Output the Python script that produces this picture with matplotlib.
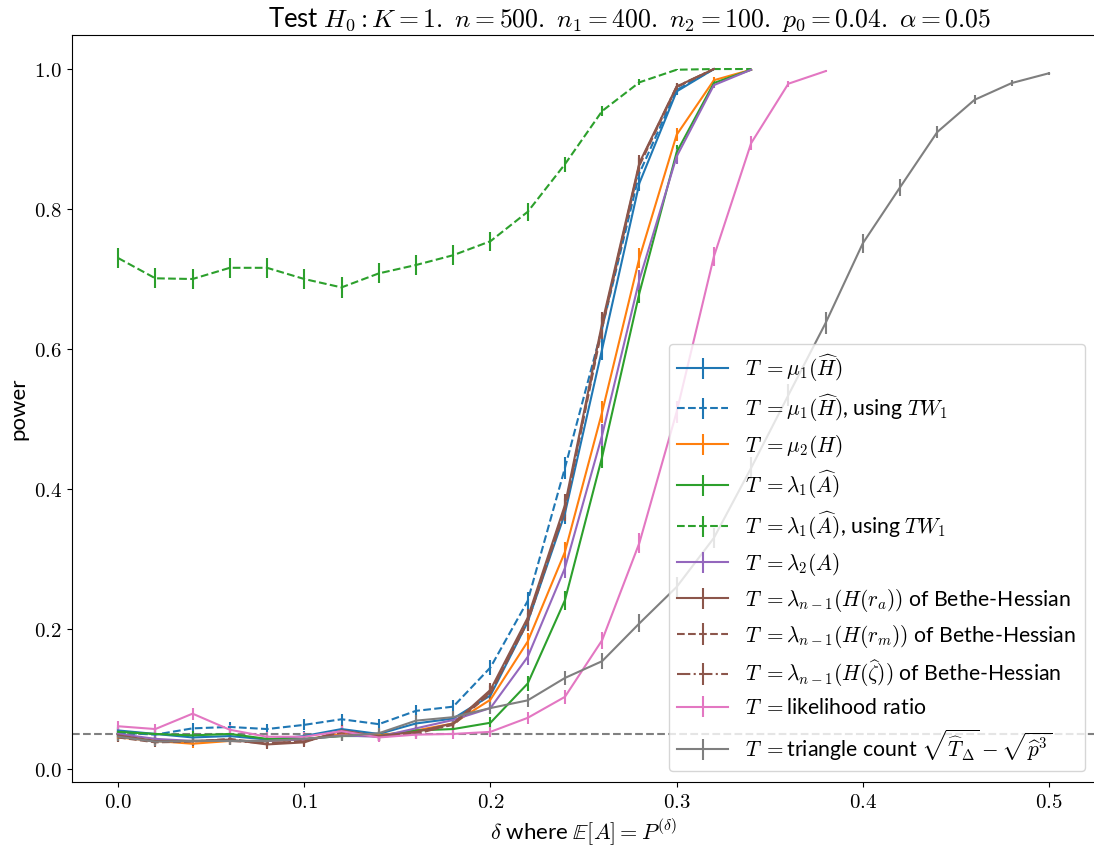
import numpy as np
import matplotlib
matplotlib.use("Agg")
import matplotlib.pyplot as plt
from matplotlib.ticker import FuncFormatter

plt.rcParams['mathtext.fontset'] = 'cm'
plt.rcParams['font.family'] = ['Lato', 'DejaVu Sans']
plt.rcParams['axes.unicode_minus'] = False

# x grid of delta values
delta = np.round(np.arange(0.0, 0.501, 0.02), 2)

# power curves, one list per test statistic
mu1_H = [0.055, 0.050, 0.045, 0.047, 0.042, 0.047, 0.057, 0.050, 0.065, 0.072,
         0.105, 0.210, 0.365, 0.600, 0.837, 0.968, 1.000]
mu1_H_tw = [0.052, 0.049, 0.058, 0.060, 0.057, 0.063, 0.071, 0.064, 0.083, 0.089,
            0.145, 0.240, 0.430, 0.630, 0.851, 0.970, 1.000]
mu2_H = [0.045, 0.040, 0.036, 0.040, 0.040, 0.042, 0.050, 0.048, 0.055, 0.065,
         0.099, 0.182, 0.310, 0.510, 0.730, 0.906, 0.984, 0.999]
lam1_A = [0.053, 0.050, 0.048, 0.050, 0.043, 0.043, 0.047, 0.047, 0.055, 0.057,
          0.066, 0.122, 0.241, 0.446, 0.680, 0.881, 0.980, 0.999]
lam1_A_tw = [0.730, 0.701, 0.700, 0.716, 0.716, 0.700, 0.688, 0.708, 0.720, 0.734,
             0.754, 0.796, 0.864, 0.940, 0.981, 0.999, 1.000, 1.000]
lam2_A = [0.050, 0.043, 0.040, 0.040, 0.040, 0.042, 0.048, 0.046, 0.058, 0.070,
          0.087, 0.160, 0.287, 0.477, 0.699, 0.875, 0.977, 0.999]
bh_ra = [0.048, 0.040, 0.040, 0.042, 0.035, 0.038, 0.055, 0.047, 0.053, 0.065,
         0.113, 0.216, 0.377, 0.637, 0.866, 0.975, 1.000]
bh_rm = [0.045, 0.038, 0.039, 0.043, 0.036, 0.040, 0.052, 0.046, 0.052, 0.063,
         0.108, 0.210, 0.370, 0.630, 0.862, 0.974, 1.000]
bh_zeta = [0.047, 0.039, 0.040, 0.040, 0.037, 0.039, 0.053, 0.046, 0.050, 0.064,
           0.110, 0.213, 0.372, 0.633, 0.864, 0.975, 1.000]
lik_ratio = [0.061, 0.057, 0.079, 0.056, 0.046, 0.046, 0.054, 0.045, 0.049, 0.050,
             0.053, 0.073, 0.103, 0.184, 0.323, 0.510, 0.732, 0.894, 0.979, 0.997]
triangle = [0.046, 0.039, 0.040, 0.040, 0.040, 0.043, 0.047, 0.051, 0.069, 0.074,
            0.087, 0.098, 0.130, 0.154, 0.208, 0.260, 0.330, 0.430, 0.534, 0.637,
            0.751, 0.831, 0.910, 0.956, 0.980, 0.994]

n_trials = 1000
alpha = 0.05

T = r'$T\;=$'
series = [
    (mu1_H, 'C0', '-', T + r'$\mu_1(\widehat{H})$'),
    (mu1_H_tw, 'C0', '--', T + r'$\mu_1(\widehat{H})$, using $TW_1$'),
    (mu2_H, 'C1', '-', T + r'$\mu_2(H)$'),
    (lam1_A, 'C2', '-', T + r'$\lambda_1(\widehat{A})$'),
    (lam1_A_tw, 'C2', '--', T + r'$\lambda_1(\widehat{A})$, using $TW_1$'),
    (lam2_A, 'C4', '-', T + r'$\lambda_2(A)$'),
    (bh_ra, 'C5', '-', T + r'$\lambda_{n-1}(H(r_a))$ of Bethe-Hessian'),
    (bh_rm, 'C5', '--', T + r'$\lambda_{n-1}(H(r_m))$ of Bethe-Hessian'),
    (bh_zeta, 'C5', '-.', T + r'$\lambda_{n-1}(H(\widehat{\zeta}))$ of Bethe-Hessian'),
    (lik_ratio, 'C6', '-', T + 'likelihood ratio'),
    (triangle, 'C7', '-', T + r'triangle count $\sqrt{\widehat{T}_\Delta} - \sqrt{\widehat{p}^3}$'),
]

fig = plt.figure(figsize=(10.94, 8.52), dpi=100)
ax = fig.add_axes([0.0654, 0.0822, 0.936, 0.8767])

for vals, color, ls, label in series:
    p = np.array(vals)
    x = delta[:len(p)]
    err = np.sqrt(p * (1 - p) / n_trials)
    ax.errorbar(x, p, yerr=err, color=color, linestyle=ls, label=label)

ax.axhline(alpha, color='gray', linestyle='--')

ax.set_xlim(-0.025, 0.525)
ax.set_ylim(-0.0186, 1.0486)
ax.set_xticks([0.0, 0.1, 0.2, 0.3, 0.4, 0.5])
ax.set_yticks([0.0, 0.2, 0.4, 0.6, 0.8, 1.0])
tex_fmt = FuncFormatter(lambda v, pos: r'$%.1f$' % v)
ax.xaxis.set_major_formatter(tex_fmt)
ax.yaxis.set_major_formatter(tex_fmt)
ax.tick_params(labelsize=15)

ax.set_xlabel(r'$\delta$ where $\mathbb{E}[A] = P^{(\delta)}$', fontsize=16)
ax.set_ylabel('power', fontsize=16)
ax.set_title(r'Test $H_0: K = 1.\ n = 500.\ n_1 = 400.\ n_2 = 100.\ p_0 = 0.04.\ \alpha = 0.05$',
             fontsize=18.5, x=0.545)
ax.legend(loc='lower right', fontsize=15.3, handlelength=2.4, labelspacing=0.42)

fig.savefig('out.png', dpi=100)
